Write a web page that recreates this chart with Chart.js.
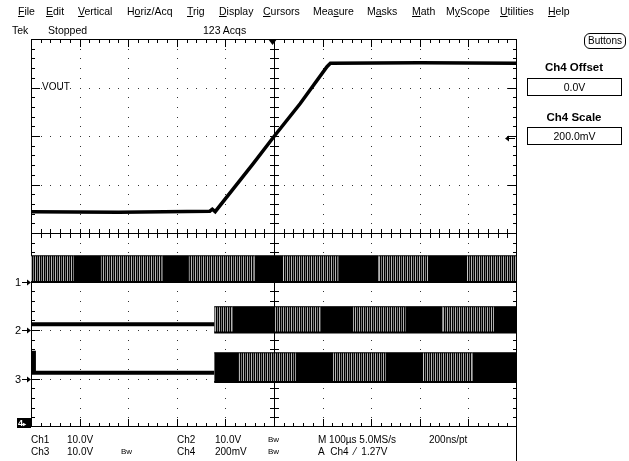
<!DOCTYPE html>
<html>
<head>
<meta charset="utf-8">
<script src="https://cdn.jsdelivr.net/npm/chart.js@4.4.0/dist/chart.umd.min.js"></script>
<style>
html,body{margin:0;padding:0;background:#fff;}
#wrap{position:relative;width:629px;height:461px;overflow:hidden;font-family:"Liberation Sans",Arial,sans-serif;color:#000;}
#c{position:absolute;left:0;top:0;}
.t{position:absolute;white-space:nowrap;font-size:10.5px;line-height:12px;}
.m{top:5px;}
.r2{top:24px;font-size:10.5px;}
.b1{top:434px;font-size:10px;}
.b2{top:446px;font-size:10px;}
.bw{font-size:8px;}
.box{position:absolute;border:1px solid #000;text-align:center;font-size:10.5px;line-height:16px;}
.hd{position:absolute;font-weight:bold;font-size:11.5px;width:100px;text-align:center;}
.ch{position:absolute;font-size:11px;line-height:12px;}
</style>
</head>
<body>
<div id="wrap">
<canvas id="c" width="629" height="461"></canvas>

<div class="t m" style="left:18px"><u>F</u>ile</div>
<div class="t m" style="left:46px"><u>E</u>dit</div>
<div class="t m" style="left:78px"><u>V</u>ertical</div>
<div class="t m" style="left:127px">H<u>o</u>riz/Acq</div>
<div class="t m" style="left:187px"><u>T</u>rig</div>
<div class="t m" style="left:219px"><u>D</u>isplay</div>
<div class="t m" style="left:263px"><u>C</u>ursors</div>
<div class="t m" style="left:313px">Mea<u>s</u>ure</div>
<div class="t m" style="left:367px">M<u>a</u>sks</div>
<div class="t m" style="left:412px"><u>M</u>ath</div>
<div class="t m" style="left:446px">M<u>y</u>Scope</div>
<div class="t m" style="left:500px"><u>U</u>tilities</div>
<div class="t m" style="left:548px"><u>H</u>elp</div>

<div class="t r2" style="left:12px">Tek</div>
<div class="t r2" style="left:48px">Stopped</div>
<div class="t r2" style="left:203px">123 Acqs</div>

<div class="box" style="left:584px;top:33px;width:40px;height:14px;line-height:14px;border-radius:6px;font-size:10px;">Buttons</div>
<div class="hd" style="left:524px;top:61px;">Ch4 Offset</div>
<div class="box" style="left:527px;top:78px;width:93px;height:16px;">0.0V</div>
<div class="hd" style="left:524px;top:111px;">Ch4 Scale</div>
<div class="box" style="left:527px;top:127px;width:93px;height:16px;">200.0mV</div>

<div class="t" style="left:42px;top:81px;font-size:10px;">VOUT</div>
<div class="ch" style="left:15px;top:276px;">1</div>
<div class="ch" style="left:15px;top:324px;">2</div>
<div class="ch" style="left:15px;top:373px;">3</div>
<div style="position:absolute;left:17px;top:418px;width:14px;height:10px;background:#000;color:#fff;font-size:9px;line-height:10px;font-weight:bold;padding-left:1px;box-sizing:border-box;">4<span style="font-size:6px">&#9656;</span></div>

<div class="t b1" style="left:31px">Ch1</div>
<div class="t b1" style="left:67px">10.0V</div>
<div class="t b1" style="left:177px">Ch2</div>
<div class="t b1" style="left:215px">10.0V</div>
<div class="t b1 bw" style="left:268px">Bw</div>
<div class="t b1" style="left:318px">M 100µs 5.0MS/s</div>
<div class="t b1" style="left:429px">200ns/pt</div>
<div class="t b2" style="left:31px">Ch3</div>
<div class="t b2" style="left:67px">10.0V</div>
<div class="t b2 bw" style="left:121px">Bw</div>
<div class="t b2" style="left:177px">Ch4</div>
<div class="t b2" style="left:215px">200mV</div>
<div class="t b2 bw" style="left:268px">Bw</div>
<div class="t b2" style="left:318px">A&nbsp; Ch4 &nbsp;⁄&nbsp; 1.27V</div>
</div>

<script>
// ---- graticule (divisions) ----
const gridX = [-5, -4, -3, -2, -1, 0, 1, 2, 3, 4, 5];
const gridY = [-4, -3, -2, -1, 0, 1, 2, 3, 4];
const minorPerDiv = 5;

// ---- Ch4 / VOUT trace (divisions) ----
const voutX = [-5, -3.2, -1.32, -1.27, -1.21, -0.42, 0, 0.54, 1.09, 1.16, 3.0, 5];
const voutY = [0.44, 0.43, 0.45, 0.49, 0.44, 1.44, 1.99, 2.67, 3.43, 3.50, 3.51, 3.50];

// ---- Ch1 digital activity ----
const ch1Edges = [-5, -4.13, -3.56, -2.30, -1.75, -0.40, 0.19, 1.32, 2.15, 3.16, 3.98, 5];
const ch1Kinds = ['S', 'D', 'S', 'D', 'S', 'D', 'S', 'D', 'S', 'D', 'S'];
const ch1High = -0.47, ch1Low = -1.01;

// ---- Ch2 digital activity ----
const ch2PreX = [-5, -1.23];
const ch2PreY = [-1.88, -1.88];
const ch2Edges = [-1.23, -0.86, 0.0, 0.95, 1.63, 2.70, 3.47, 4.52, 5];
const ch2Kinds = ['S', 'D', 'S', 'D', 'S', 'D', 'S', 'D'];
const ch2High = -1.52, ch2Low = -2.05;

// ---- Ch3 digital activity ----
const ch3PreX = [-5, -4.98, -4.98, -4.94, -4.94, -1.23];
const ch3PreY = [-2.88, -2.88, -2.47, -2.47, -2.88, -2.88];
const ch3Edges = [-1.23, -0.74, 0.44, 1.22, 2.29, 3.07, 4.08, 5];
const ch3Kinds = ['D', 'S', 'D', 'S', 'D', 'S', 'D'];
const ch3High = -2.47, ch3Low = -3.07;

// ---- markers ----
const groundLevels = [-1, -2, -3];
const trigLevel = 1.96;
const trigPos = -0.03;

// striped pattern for resolved pulse trains
function makePattern() {
  const pc = document.createElement('canvas');
  pc.width = 4; pc.height = 1;
  const g = pc.getContext('2d');
  const cols = ['#000', '#7a7a7a', '#000', '#b4b4b4'];
  cols.forEach((c, i) => { g.fillStyle = c; g.fillRect(i, 0, 1, 1); });
  return document.getElementById('c').getContext('2d').createPattern(pc, 'repeat');
}
const stripe = makePattern();

function pts(xs, ys) { return xs.map((x, i) => ({x, y: Array.isArray(ys) ? ys[i] : ys})); }

function band(edges, kinds, hi, lo) {
  return [
    { data: pts(edges, lo), borderColor: '#000', borderWidth: 2, pointRadius: 0, fill: false },
    { data: pts(edges, hi), borderColor: '#000', borderWidth: 1, pointRadius: 0, fill: '-1',
      backgroundColor: '#000',
      segment: { backgroundColor: c => kinds[c.p0DataIndex] === 'D' ? '#000' : stripe } }
  ];
}

const graticule = {
  id: 'graticule',
  beforeDatasetsDraw(chart) {
    const {ctx, chartArea: a, scales: {x, y}} = chart;
    const X = v => Math.round(x.getPixelForValue(v));
    const Y = v => Math.round(y.getPixelForValue(v));
    const L = Math.round(a.left), R = Math.round(a.right) - 1, T = Math.round(a.top), B = Math.round(a.bottom) - 1;
    ctx.save();
    ctx.fillStyle = '#333';
    gridX.forEach(g => {
      if (g === 0 || g === gridX[0] || g === gridX[gridX.length - 1]) return;
      const px = X(g);
      for (let k = gridY[0] * minorPerDiv + 1; k < gridY[gridY.length - 1] * minorPerDiv; k++) ctx.fillRect(px, Y(k / minorPerDiv), 1, 1);
    });
    gridY.forEach(g => {
      if (g === 0 || g === gridY[0] || g === gridY[gridY.length - 1]) return;
      const py = Y(g);
      for (let k = gridX[0] * minorPerDiv + 1; k < gridX[gridX.length - 1] * minorPerDiv; k++) ctx.fillRect(X(k / minorPerDiv), py, 1, 1);
    });
    ctx.fillStyle = '#000';
    ctx.fillRect(L, T, R - L + 1, 1);
    ctx.fillRect(L, B, R - L + 1, 1);
    ctx.fillRect(L, T, 1, B - T + 1);
    ctx.fillRect(R, T, 1, 461 - T);
    const cx = X(0), cy = Y(0);
    ctx.fillRect(cx, T, 1, B - T);
    ctx.fillRect(L, cy, R - L, 1);
    for (let k = gridX[0] * minorPerDiv + 1; k < gridX[gridX.length - 1] * minorPerDiv; k++) {
      const px = X(k / minorPerDiv);
      const major = k % minorPerDiv === 0;
      const len = major ? 8 : 4;
      ctx.fillRect(px, T, 1, len);
      ctx.fillRect(px, B - len + 1, 1, len);
      ctx.fillRect(px, cy - 4, 1, 9);
    }
    for (let k = gridY[0] * minorPerDiv + 1; k < gridY[gridY.length - 1] * minorPerDiv; k++) {
      const py = Y(k / minorPerDiv);
      const major = k % minorPerDiv === 0;
      const len = major ? 9 : 4;
      ctx.fillRect(L, py, len, 1);
      ctx.fillRect(R - len + 1, py, len, 1);
      ctx.fillRect(cx - 4, py, 9, 1);
    }
    ctx.restore();
  },
  afterDatasetsDraw(chart) {
    const {ctx, chartArea: a, scales: {x, y}} = chart;
    const L = Math.round(a.left), R = Math.round(a.right) - 1, T = Math.round(a.top);
    ctx.save();
    ctx.fillStyle = '#000';
    groundLevels.forEach(g => {
      const py = Math.round(y.getPixelForValue(g));
      ctx.fillRect(L - 9, py, 8, 1);
      ctx.beginPath(); ctx.moveTo(L, py + 0.5); ctx.lineTo(L - 4, py - 2.5); ctx.lineTo(L - 4, py + 3.5); ctx.closePath(); ctx.fill();
    });
    const ty = Math.round(y.getPixelForValue(trigLevel));
    ctx.fillRect(R - 10, ty, 9, 1);
    ctx.beginPath(); ctx.moveTo(R - 11, ty + 0.5); ctx.lineTo(R - 7, ty - 2.5); ctx.lineTo(R - 7, ty + 3.5); ctx.closePath(); ctx.fill();
    const tx = x.getPixelForValue(trigPos);
    ctx.beginPath(); ctx.moveTo(tx - 4.5, T); ctx.lineTo(tx + 4.5, T); ctx.lineTo(tx, T + 6); ctx.closePath(); ctx.fill();
    ctx.restore();
  }
};

const datasets = [
  ...band(ch1Edges, ch1Kinds, ch1High, ch1Low),
  { data: pts(ch2PreX, ch2PreY), borderColor: '#000', borderWidth: 4, pointRadius: 0, fill: false },
  ...band(ch2Edges, ch2Kinds, ch2High, ch2Low),
  { data: pts(ch3PreX, ch3PreY), borderColor: '#000', borderWidth: 4, pointRadius: 0, fill: false },
  ...band(ch3Edges, ch3Kinds, ch3High, ch3Low),
  { data: pts(voutX, voutY), borderColor: '#000', borderWidth: 3.5, pointRadius: 0, fill: false }
];

new Chart(document.getElementById('c'), {
  type: 'line',
  data: { datasets },
  options: {
    responsive: false,
    animation: false,
    devicePixelRatio: 1,
    layout: { padding: { left: 31, top: 39, right: 112, bottom: 34 } },
    plugins: { legend: { display: false }, tooltip: { enabled: false } },
    elements: { line: { tension: 0 } },
    scales: {
      x: { type: 'linear', min: gridX[0], max: gridX[gridX.length - 1], display: false },
      y: { type: 'linear', min: gridY[0], max: gridY[gridY.length - 1], display: false }
    }
  },
  plugins: [graticule]
});
</script>
</body>
</html>
